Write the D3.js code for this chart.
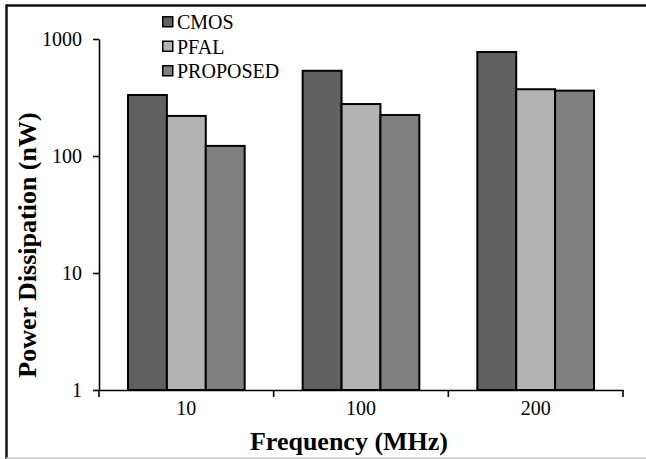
<!DOCTYPE html>
<html>
<head>
<meta charset="utf-8">
<script src="https://cdn.jsdelivr.net/npm/d3@7"></script>
<style>
  html, body { margin: 0; padding: 0; background: #fff; }
  svg { display: block; }
</style>
</head>
<body>
<svg id="chart" width="646" height="459" font-family="Liberation Serif"></svg>
<script>
// Power dissipation by operating frequency, three logic styles (log scale)
const categories = ["10", "100", "200"];
const seriesNames = ["CMOS", "PFAL", "PROPOSED"];
const cmos = [332, 535, 774];
const pfal = [220, 278, 372];
const proposed = [122, 224, 362];
const yTicks = [1, 10, 100, 1000];
const seriesColors = ["#616161", "#b3b3b3", "#808080"];

const serifFont = "'Liberation Serif', 'DejaVu Serif', serif";

const seriesValues = [cmos, pfal, proposed];
const rows = categories.map((c, i) => ({
  cat: c,
  vals: seriesNames.map((s, j) => ({ key: s, value: seriesValues[j][i], color: seriesColors[j] }))
}));

const svg = d3.select("#chart");
const plot = { left: 99, right: 623, top: 39, bottom: 390 };

const x = d3.scaleBand().domain(categories).range([plot.left, plot.right]).padding(0);
const groupGap = 29;
const x1 = d3.scaleBand().domain(seriesNames).range([groupGap, x.bandwidth() - groupGap]).padding(0);
const y = d3.scaleLog().domain([1, 1000]).range([plot.bottom, plot.top]);

// outer frame
svg.append("line").attr("x1", 6).attr("x2", 646).attr("y1", 5.5).attr("y2", 5.5)
  .attr("stroke", "#111").attr("stroke-width", 2.5);
svg.append("line").attr("x1", 6.5).attr("x2", 6.5).attr("y1", 4.5).attr("y2", 459)
  .attr("stroke", "#111").attr("stroke-width", 2.5);
svg.append("line").attr("x1", 6).attr("x2", 646).attr("y1", 458).attr("y2", 458)
  .attr("stroke", "#c8c8c8").attr("stroke-width", 1.5);

// bars
const groups = svg.append("g").selectAll("g").data(rows).join("g")
  .attr("transform", d => `translate(${x(d.cat)},0)`);
groups.selectAll("rect").data(d => d.vals).join("rect")
  .attr("x", d => x1(d.key))
  .attr("width", x1.bandwidth())
  .attr("y", d => y(d.value))
  .attr("height", d => y(1) - y(d.value))
  .attr("fill", d => d.color)
  .attr("stroke", "#000")
  .attr("stroke-width", 2);

// y axis
const yAxis = svg.append("g")
  .attr("transform", `translate(${plot.left},0)`)
  .call(d3.axisLeft(y).tickValues(yTicks).tickFormat(d3.format("d")).tickSize(6).tickSizeOuter(0).tickPadding(11))
  .attr("font-family", null);
yAxis.select(".domain").attr("stroke", "#000").attr("stroke-width", 1.6);
yAxis.selectAll(".tick line").attr("stroke", "#000").attr("stroke-width", 1.6);
yAxis.selectAll(".tick text").attr("font-size", 20).attr("fill", "#000");

// x axis: labels at band centres, ticks at category boundaries
const xAxis = svg.append("g")
  .attr("transform", `translate(0,${plot.bottom})`)
  .call(d3.axisBottom(x).tickSize(0).tickPadding(25).tickSizeOuter(0))
  .attr("font-family", null);
xAxis.select(".domain").attr("stroke", "#000").attr("stroke-width", 1.6);
xAxis.selectAll(".tick text").attr("font-size", 20).attr("fill", "#000")
  .attr("dy", 0);
const bounds = categories.map(c => x(c)).concat([x.range()[1]]);
xAxis.selectAll(".bound").data(bounds).join("line")
  .attr("class", "bound")
  .attr("x1", d => d).attr("x2", d => d)
  .attr("y1", 0).attr("y2", 7)
  .attr("stroke", "#000").attr("stroke-width", 1.6);

// axis titles
svg.append("text")
  .attr("transform", `translate(36,245) rotate(-90)`)
  .attr("text-anchor", "middle")
  .attr("font-size", 26).attr("font-weight", "bold")
  .text("Power Dissipation (nW)");
svg.append("text")
  .attr("x", 349).attr("y", 450)
  .attr("text-anchor", "middle")
  .attr("font-size", 26).attr("font-weight", "bold")
  .text("Frequency (MHz)");

// legend
const legend = svg.append("g").attr("transform", "translate(162,0)");
const legendRows = legend.selectAll("g").data(seriesNames).join("g")
  .attr("transform", (d, i) => `translate(0,${22 + i * 24.5})`);
legendRows.append("rect")
  .attr("x", 0.75).attr("y", -5.25).attr("width", 10).attr("height", 10)
  .attr("fill", (d, i) => seriesColors[i])
  .attr("stroke", "#000").attr("stroke-width", 1.5);
legendRows.append("text")
  .attr("x", 15).attr("y", 7)
  .attr("font-size", 20)
  .text(d => d);

// every label uses the serif face
svg.selectAll("text").style("font-family", serifFont);
</script>
</body>
</html>
